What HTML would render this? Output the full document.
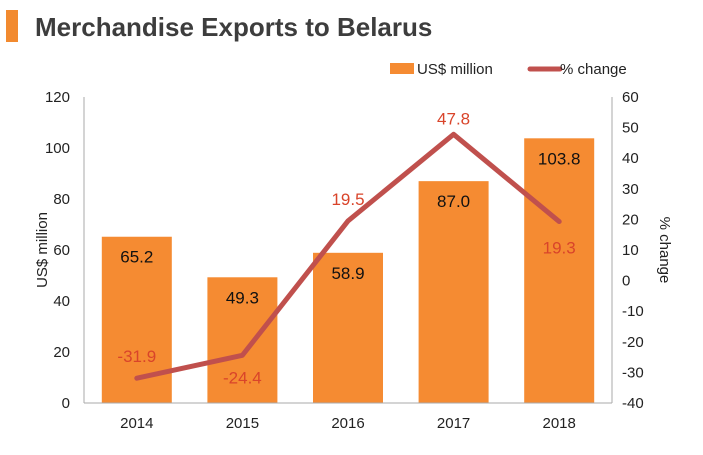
<!DOCTYPE html>
<html><head><meta charset="utf-8"><style>
body{margin:0;background:#fff;font-family:"Liberation Sans",sans-serif}
svg text{font-family:"Liberation Sans",sans-serif}
</style></head><body>
<svg width="703" height="450" viewBox="0 0 703 450">
<rect x="6" y="10" width="12" height="32" fill="#f28a2f"/>
<text x="35" y="36" font-size="26" font-weight="bold" fill="#3d3d3d">Merchandise Exports to Belarus</text>
<g>
<rect x="390" y="63" width="24" height="11" fill="#f58b32"/>
<text x="417" y="74" font-size="15" fill="#222">US$ million</text>
<line x1="530" y1="69" x2="560" y2="69" stroke="#c0504d" stroke-width="5" stroke-linecap="round"/>
<text x="560" y="74" font-size="15" fill="#222">% change</text>
</g>
<g id="plot"></g>
<text transform="translate(47,250) rotate(-90)" text-anchor="middle" font-size="15" fill="#222">US$ million</text>
<text transform="translate(660,250) rotate(90)" text-anchor="middle" font-size="15" fill="#222">% change</text>
</svg>
<script>
const categories=["2014","2015","2016","2017","2018"];
const exportsValues=[65.2,49.3,58.9,87.0,103.8];
const changeValues=[-31.9,-24.4,19.5,47.8,19.3];
const leftTicks=[0,20,40,60,80,100,120];
const rightTicks=[-40,-30,-20,-10,0,10,20,30,40,50,60];
const NS="http://www.w3.org/2000/svg";
const g=document.getElementById('plot');
const X0=84,X1=612,Y0=403,Y1=97;
const band=(X1-X0)/categories.length;
const xc=i=>X0+band*(i+0.5);
const yL=v=>Y0-(v/120)*(Y0-Y1);
const yR=v=>Y0-((v+40)/100)*(Y0-Y1);
function mk(tag,attrs,txt){const e=document.createElementNS(NS,tag);for(const k in attrs)e.setAttribute(k,attrs[k]);if(txt!=null)e.textContent=txt;g.appendChild(e);return e;}
leftTicks.forEach(t=>{const e=mk('text',{x:70,y:yL(t)+5,'text-anchor':'end','font-size':15,fill:'#222'},t);

});
rightTicks.forEach(t=>{const e=mk('text',{x:622,y:yR(t)+5,'font-size':15,fill:'#222'},t);

});
categories.forEach((c,i)=>{
const b=mk('rect',{x:xc(i)-35,y:yL(exportsValues[i]),width:70,height:Y0-yL(exportsValues[i]),fill:'#f58b32'});


const l=mk('text',{x:xc(i),y:yL(exportsValues[i])+26,'text-anchor':'middle','font-size':17,fill:'#111'},exportsValues[i].toFixed(1));


const xl=mk('text',{x:xc(i),y:428,'text-anchor':'middle','font-size':15,fill:'#222'},c);


});
const ax1=mk('line',{x1:X0,y1:Y1,x2:X0,y2:Y0,stroke:'#aaa'});


const ax2=mk('line',{x1:X1,y1:Y1,x2:X1,y2:Y0,stroke:'#aaa'});


const ax3=mk('line',{x1:X0,y1:Y0,x2:X1,y2:Y0,stroke:'#aaa'});


const pts=changeValues.map((v,i)=>xc(i)+','+yR(v)).join(' ');
const pl=mk('polyline',{points:pts,fill:'none',stroke:'#c0504d','stroke-width':5,'stroke-linejoin':'round','stroke-linecap':'round'});


const offs=[-22,22,-22,-16,26];
changeValues.forEach((v,i)=>{
const t=mk('text',{x:xc(i),y:yR(v)+offs[i]+6,'text-anchor':'middle','font-size':17,fill:'#d9442a'},v.toFixed(1));


});
</script>
</body></html>
